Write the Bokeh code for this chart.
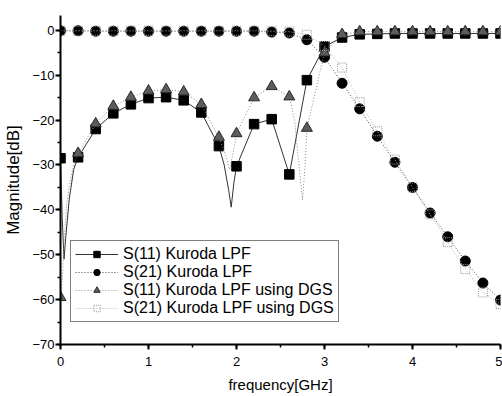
from bokeh.plotting import figure
from bokeh.models import SingleIntervalTicker, Range1d
from bokeh.embed import file_html
from bokeh.resources import INLINE

# marker grid (GHz)
freq = [0.0, 0.2, 0.4, 0.6, 0.8, 1.0, 1.2, 1.4, 1.6, 1.8, 2.0, 2.2, 2.4,
        2.6, 2.8, 3.0, 3.2, 3.4, 3.6, 3.8, 4.0, 4.2, 4.4, 4.6, 4.8, 5.0]

s11_kuroda = [-28.5, -28.3, -22.0, -18.5, -16.5, -15.1, -14.9, -15.6, -18.3,
              -25.8, -30.3, -20.9, -19.8, -32.1, -11.1, -3.6, -1.6, -0.9,
              -0.8, -0.7, -0.7, -0.7, -0.7, -0.7, -0.7, -0.7]
s21_kuroda = [-0.1, -0.1, -0.2, -0.2, -0.2, -0.2, -0.2, -0.2, -0.2, -0.2,
              -0.2, -0.2, -0.4, -0.6, -2.1, -6.0, -11.8, -17.5, -23.6, -29.4,
              -35.0, -40.7, -46.0, -51.4, -56.3, -60.1]
s11_dgs = [-59.5, -27.4, -20.8, -16.9, -14.9, -13.5, -13.2, -13.7, -16.5,
           -23.8, -23.0, -15.0, -12.5, -14.8, -21.8, -5.0, -0.9, -0.3,
           -0.3, -0.3, -0.3, -0.3, -0.3, -0.3, -0.3, -0.3]
s21_dgs = [-0.1, -0.1, -0.1, -0.1, -0.1, -0.1, -0.1, -0.1, -0.1, -0.1,
           -0.1, -0.1, -0.2, -0.3, -1.0, -3.5, -8.3, -16.0, -22.5, -28.8,
           -35.0, -41.0, -47.2, -53.2, -58.4, -61.0]

# traced curves (marker points plus the read notch points)
s11_kuroda_line_f = [0.0, 0.02, 0.04, 0.06, 0.1, 0.15, 0.2, 0.4, 0.6, 0.8,
                     1.0, 1.2, 1.4, 1.6, 1.8, 1.86, 1.91, 1.94, 1.97, 2.0,
                     2.2, 2.4, 2.6, 2.8, 3.0, 3.2, 3.4, 3.6, 3.8, 4.0, 4.2,
                     4.4, 4.6, 4.8, 5.0]
s11_kuroda_line = [-28.5, -42.0, -51.0, -46.0, -37.5, -31.0, -28.3, -22.0,
                   -18.5, -16.5, -15.1, -14.9, -15.6, -18.3, -25.8, -30.0,
                   -35.5, -39.4, -34.0, -30.3, -20.9, -19.8, -32.1, -11.1,
                   -3.6, -1.6, -0.9, -0.8, -0.7, -0.7, -0.7, -0.7, -0.7,
                   -0.7, -0.7]
s11_dgs_line_f = [0.0, 0.02, 0.04, 0.07, 0.1, 0.15, 0.2, 0.4, 0.6, 0.8, 1.0,
                  1.2, 1.4, 1.6, 1.8, 1.88, 1.92, 1.96, 2.0, 2.2, 2.4, 2.6,
                  2.66, 2.71, 2.75, 2.78, 2.8, 3.0, 3.2, 3.4, 3.6, 3.8, 4.0,
                  4.2, 4.4, 4.6, 4.8, 5.0]
s11_dgs_line = [-59.5, -56.0, -47.0, -39.0, -34.5, -30.0, -27.4, -20.8,
                -16.9, -14.9, -13.5, -13.2, -13.7, -16.5, -23.8, -28.0,
                -31.0, -27.5, -23.0, -15.0, -12.5, -14.8, -20.0, -30.0,
                -37.8, -30.0, -21.8, -5.0, -0.9, -0.3, -0.3, -0.3, -0.3,
                -0.3, -0.3, -0.3, -0.3, -0.3]

labels = ["S(11) Kuroda LPF", "S(21) Kuroda LPF",
          "S(11) Kuroda LPF using DGS", "S(21) Kuroda LPF using DGS"]

FONT = "Liberation Sans"

p = figure(width=502, height=396, output_backend="svg", toolbar_location=None,
           x_range=Range1d(0, 5), y_range=Range1d(-70, 3.3),
           min_border_left=60, min_border_right=2, min_border_top=15,
           min_border_bottom=52)
p.outline_line_color = None
p.xgrid.visible = False
p.ygrid.visible = False
p.background_fill_color = "white"

# S11 Kuroda
p.line(s11_kuroda_line_f, s11_kuroda_line, line_color="#333333", line_width=1,
       legend_label=labels[0])
p.scatter(freq, s11_kuroda, marker="square", size=9.5, fill_color="black",
          line_color="black", legend_label=labels[0])
# S21 Kuroda
p.line(freq, s21_kuroda, line_color="#444444", line_width=1, line_dash="1 2",
       legend_label=labels[1])
p.scatter(freq, s21_kuroda, marker="circle", size=10, fill_color="black",
          line_color="black", legend_label=labels[1])
# S11 DGS
p.line(s11_dgs_line_f, s11_dgs_line, line_color="#888888", line_width=1,
       line_dash="1 2", legend_label=labels[2])
p.scatter(freq, s11_dgs, marker="triangle", size=11, fill_color="#5c5c5c",
          line_color="#2a2a2a", legend_label=labels[2])
# S21 DGS
p.line(freq, s21_dgs, line_color="#b0b0b0", line_width=1, line_dash="1 2",
       legend_label=labels[3])
p.scatter(freq, s21_dgs, marker="square", size=9, fill_color=None,
          line_color="#999999", line_dash="1 1", legend_label=labels[3])

p.xaxis.ticker = SingleIntervalTicker(interval=1, num_minor_ticks=2)
p.yaxis.ticker = SingleIntervalTicker(interval=10, num_minor_ticks=2)

for ax in (p.xaxis[0], p.yaxis[0]):
    ax.axis_line_width = 2
    ax.axis_line_color = "black"
    ax.major_tick_line_width = 2
    ax.minor_tick_line_width = 1.5
    ax.major_tick_out = 5
    ax.major_tick_in = 0
    ax.minor_tick_out = 3
    ax.minor_tick_in = 0
    ax.major_label_text_font = FONT
    ax.major_label_text_font_size = "13px"
    ax.major_label_text_color = "black"
    ax.axis_label_text_font = FONT
    ax.axis_label_text_font_style = "normal"
    ax.axis_label_text_color = "black"

p.xaxis.axis_label = "frequency[GHz]"
p.yaxis.axis_label = "Magnitude[dB]"
p.xaxis.axis_label_text_font_size = "15px"
p.yaxis.axis_label_text_font_size = "17px"
p.xaxis.major_label_standoff = 7
p.xaxis.axis_label_standoff = 7
p.yaxis.major_label_standoff = 1
p.yaxis.axis_label_standoff = 6

lg = p.legend[0]
lg.location = (10, 22)
lg.label_text_font = FONT
lg.label_text_font_size = "16px"
lg.label_text_color = "black"
lg.label_height = 16
lg.glyph_height = 16
lg.glyph_width = 43
lg.spacing = 0
lg.padding = 4
lg.margin = 0
lg.label_standoff = 5
lg.border_line_color = "black"
lg.border_line_width = 1
lg.background_fill_alpha = 1.0

open("out.html", "w").write(file_html(p, INLINE))
